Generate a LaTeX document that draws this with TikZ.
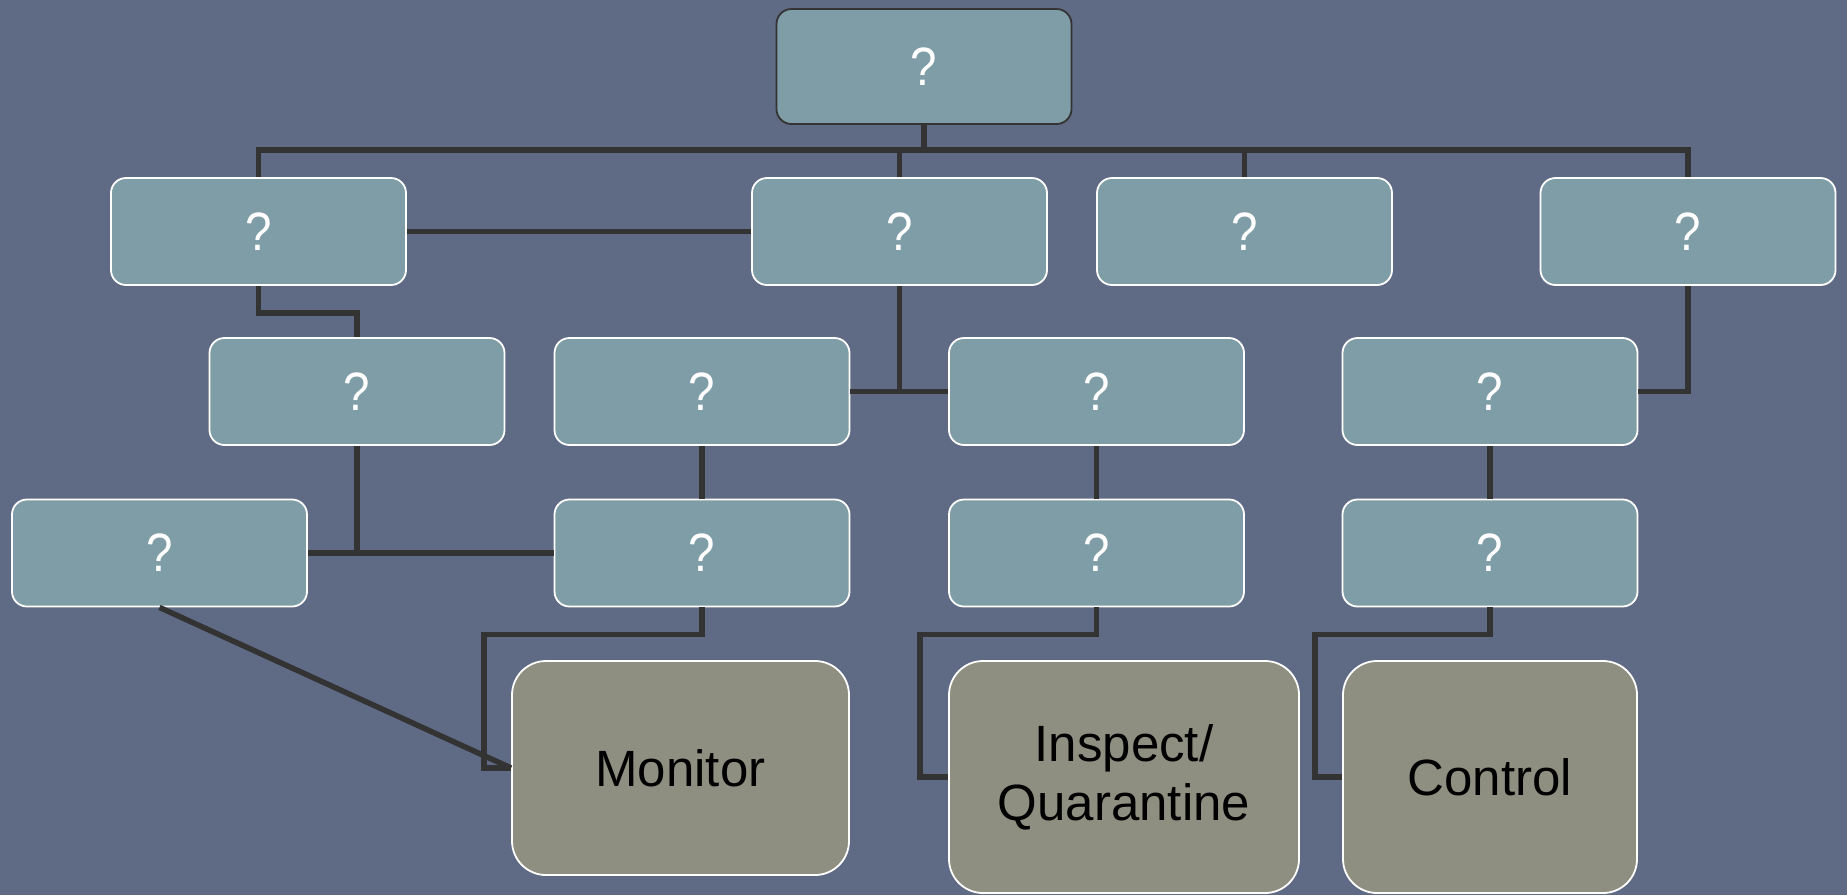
\documentclass[tikz,border=0pt]{standalone}
\usepackage{fontspec}
\setmainfont{Liberation Sans}
\definecolor{bgblue}{RGB}{95,106,133}
\definecolor{boxteal}{RGB}{127,157,166}
\definecolor{boxgray}{RGB}{142,143,128}
\definecolor{linedark}{RGB}{51,51,51}
\newcommand{\narrowtext}[1]{\scalebox{0.88}[1]{#1}}
\tikzset{
  qbox/.style={draw=white, line width=1.8pt, fill=boxteal, rounded corners=15pt,
    minimum width=295pt, minimum height=107pt, inner sep=0pt,
    text=white, font=\fontsize{54}{60}\selectfont},
  rootbox/.style={qbox, draw=linedark, minimum height=115pt},
  actbox/.style={draw=white, line width=1.8pt, fill=boxgray, rounded corners=34pt,
    inner sep=0pt, align=center, text=black, font=\fontsize{51}{59}\selectfont},
  conn/.style={draw=linedark, line width=5.5pt}
}
\begin{document}
\begin{tikzpicture}[x=1pt,y=-1pt]
  \fill[bgblue] (0,0) rectangle (1847,895);
  \useasboundingbox (0,0) rectangle (1847,895);
  \coordinate (bus) at (0,150);

  % boxes
  \node[rootbox] (top) at (924,66.5) {\narrowtext{?}};
  \node[qbox] (a) at (258.5,231.5) {\narrowtext{?}};
  \node[qbox] (b) at (899.5,231.5) {\narrowtext{?}};
  \node[qbox] (c) at (1244.5,231.5) {\narrowtext{?}};
  \node[qbox] (d) at (1688,231.5) {\narrowtext{?}};
  \node[qbox] (e) at (357,391.5) {\narrowtext{?}};
  \node[qbox] (f) at (702,391.5) {\narrowtext{?}};
  \node[qbox] (g) at (1096.5,391.5) {\narrowtext{?}};
  \node[qbox] (h) at (1490,391.5) {\narrowtext{?}};
  \node[qbox] (i) at (159.5,553) {\narrowtext{?}};
  \node[qbox] (j) at (702,553) {\narrowtext{?}};
  \node[qbox] (k) at (1096.5,553) {\narrowtext{?}};
  \node[qbox] (l) at (1490,553) {\narrowtext{?}};
  \node[actbox, minimum width=337pt, minimum height=214pt] (mon) at (680.5,768) {Monitor};
  \node[actbox, minimum width=350pt, minimum height=232pt] (insp) at (1124,777) {Inspect/\\Quarantine};
  \node[actbox, minimum width=294pt, minimum height=232pt] (ctrl) at (1490,777) {Control};

  % top bus
  \draw[conn] (top.south) -- (top.south |- bus);
  \draw[conn] (a.north) -- (a.north |- bus) -- (d.north |- bus) -- (d.north);
  \draw[conn] (b.north) -- (b.north |- bus);
  \draw[conn] (c.north) -- (c.north |- bus);

  % second level
  \draw[conn] (a.east) -- (b.west);
  \draw[conn] (a.south) -- ++(0,27) -| (e.north);
  \draw[conn] (b.south) -- (b.south |- f.east);
  \draw[conn] (f.east) -- (g.west);
  \draw[conn] (d.south) |- (h.east);

  % third level
  \draw[conn] (e.south) -- (e.south |- i.east);
  \draw[conn] (i.east) -- (j.west);
  \draw[conn] (f.south) -- (j.north);
  \draw[conn] (g.south) -- (k.north);
  \draw[conn] (h.south) -- (l.north);

  % actions
  \draw[conn] (j.south) -- ++(0,27) -| ([xshift=-27pt]mon.west) -- (mon.west);
  \draw[conn] (i.south) -- (mon.west);
  \draw[conn] (k.south) -- ++(0,27) -| ([xshift=-28pt]insp.west) -- (insp.west);
  \draw[conn] (l.south) -- ++(0,27) -| ([xshift=-27pt]ctrl.west) -- (ctrl.west);
\end{tikzpicture}
\end{document}
